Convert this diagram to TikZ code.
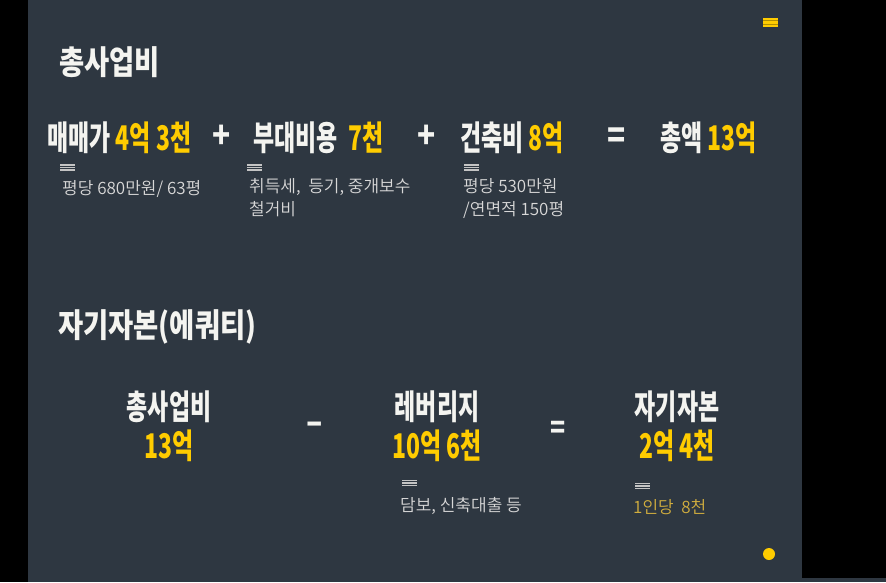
\documentclass[tikz,border=0pt]{standalone}
\usepackage{fontspec}
\newfontfamily\krhead[FakeStretch=0.675]{Noto Sans CJK KR Black}
\newfontfamily\krtitle[FakeStretch=0.83]{Noto Sans CJK KR Black}
\newfontfamily\krtext{Noto Sans CJK KR DemiLight}
\definecolor{slate}{HTML}{2E3741}
\definecolor{gold}{HTML}{FFCC00}
\definecolor{paper}{HTML}{F4F4F0}
\definecolor{note}{HTML}{D8D8D8}
\definecolor{dimgold}{HTML}{D2AE3E}
\definecolor{tick}{HTML}{C4C4C4}
\tikzset{
  every picture/.style={line join=round, line cap=round},
  title/.style={text=paper, font=\krtitle\fontsize{33}{38}\selectfont, anchor=west, inner sep=0pt},
  item/.style={text=paper, font=\krhead\fontsize{34}{38}\selectfont, anchor=west, inner sep=0pt},
  stack/.style={text=paper, font=\krhead\fontsize{34}{39}\selectfont, align=center, inner sep=0pt},
  op/.style={text=paper, font=\krtitle\fontsize{36}{38}\selectfont, inner sep=0pt},
  note/.style={text=note, font=\krtext\fontsize{17}{23}\selectfont, anchor=west, align=left, inner sep=0pt},
  tickline/.style={draw=#1, line width=1.1pt, line cap=butt},
  tickline/.default=tick,
}
\newcommand\gd[1]{\textcolor{gold}{#1}}

\begin{document}
\begin{tikzpicture}[x=1pt,y=-1pt]
\fill[black] (0,0) rectangle (886,582);
\useasboundingbox (0,0) rectangle (886,582);
\fill[slate] (28,0) rectangle (802,582);
\fill[slate] (802,578) rectangle (886,582);
\fill[gold] (763,18) rectangle (778,27);
\draw[tickline=gold!70!black] (763,20.8) -- ++(15,0) (763,24.2) -- ++(15,0);
\fill[gold] (769,554) circle (6);

% 총사업비
\node[title] (t1) at (59,62) {총사업비};
\node[item] (price) at (47,138) {매매가 \gd{4억 3천}};
\node[op] (plus1) at (222,137) {+};
\node[item] (extra) at (253,138) {부대비용 \ \gd{7천}};
\node[op] (plus2) at (427,137) {+};
\node[item] (build) at (460,138) {건축비 \gd{8억}};
\node[op] (eq1) at (617,138) {=};
\node[item] (total) at (660,138) {총액 \gd{13억}};

\foreach \x/\y in {60/167.5,247/167.5,464/167.5,402/483,635/486}
  \draw[tickline] (\x,\y-2.5) -- ++(15,0) (\x,\y) -- ++(15,0) (\x,\y+2.5) -- ++(15,0);

\node[note] (n1) at (62,189) {평당 680만원/ 63평};
\node[note, anchor=north west] (n2) at (249,178) {취득세, \ 등기, 중개보수\\철거비};
\node[note, anchor=north west] (n3) at (463,178) {평당 530만원\\/연면적 150평};

% 자기자본
\node[title] (t2) at (58,327) {자기자본(에쿼티)};
\node[stack] (cost) at (169,426) {총사업비\\\gd{13억}};
\node[op] (minus) at (315,428) {–};
\node[stack] (lev) at (437,426) {레버리지\\\gd{10억 6천}};
\node[op, font=\krtitle\fontsize{30}{32}\selectfont] (eq2) at (558,430) {=};
\node[stack] (equity) at (677,426) {자기자본\\\gd{2억 4천}};
\node[note] (n4) at (400,506) {담보, 신축대출 등};
\node[note, text=dimgold] (n5) at (633,507) {1인당 \ 8천};
\end{tikzpicture}
\end{document}
